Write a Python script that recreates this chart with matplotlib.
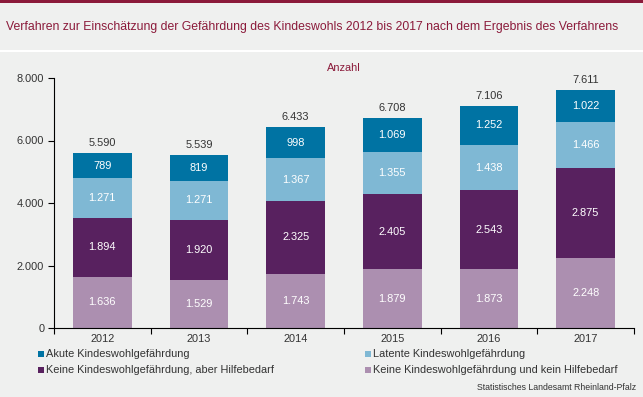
import numpy as np
import matplotlib.pyplot as plt
from matplotlib.patches import Rectangle

plt.rcParams['font.family'] = ['Liberation Sans', 'DejaVu Sans']

years = ['2012', '2013', '2014', '2015', '2016', '2017']
kein_hilfe = [1636, 1529, 1743, 1879, 1873, 2248]
aber_hilfe = [1894, 1920, 2325, 2405, 2543, 2875]
latent = [1271, 1271, 1367, 1355, 1438, 1466]
akut = [789, 819, 998, 1069, 1252, 1022]

series = [
    ('Keine Kindeswohlgefährdung und kein Hilfebedarf', kein_hilfe, '#ac8fb0'),
    ('Keine Kindeswohlgefährdung, aber Hilfebedarf', aber_hilfe, '#58215f'),
    ('Latente Kindeswohlgefährdung', latent, '#7fb8d4'),
    ('Akute Kindeswohlgefährdung', akut, '#0073a3'),
]

def fmt(v):
    return f"{v:,}".replace(',', '.')

bg = '#eff0ef'
maroon = '#8b1a3a'
txt = '#333333'
fs = 7.9

fig = plt.figure(figsize=(6.43, 3.97), dpi=100)
fig.patch.set_facecolor(bg)
# top bar and separator
fig.add_artist(Rectangle((0, 1 - 3 / 397), 1, 3 / 397, transform=fig.transFigure, color='#8b1a3a', lw=0))
fig.add_artist(Rectangle((0, 1 - 52 / 397), 1, 2 / 397, transform=fig.transFigure, color='white', lw=0))
fig.text(6 / 643, 1 - 27 / 397, 'Verfahren zur Einschätzung der Gefährdung des Kindeswohls 2012 bis 2017 nach dem Ergebnis des Verfahrens',
         color=maroon, fontsize=8.8, va='center', ha='left')

ax = fig.add_axes([54 / 643, 69 / 397, 580 / 643, 250 / 397])
ax.set_facecolor(bg)
x = np.arange(len(years))
bottom = np.zeros(len(years))
for name, vals, col in series:
    vals = np.array(vals)
    ax.bar(x, vals, width=0.61, bottom=bottom, color=col, lw=0)
    for xi, b, v in zip(x, bottom, vals):
        ax.text(xi, b + v / 2, fmt(int(v)), ha='center', va='center', color='white', fontsize=fs)
    bottom = bottom + vals
for xi, t in zip(x, bottom):
    ax.text(xi, t + 170, fmt(int(t)), ha='center', va='bottom', color=txt, fontsize=fs)

ax.set_xlim(-0.5, len(years) - 0.5)
ax.set_ylim(0, 8000)
ax.set_yticks(range(0, 8001, 2000))
ax.set_yticklabels([fmt(v) for v in range(0, 8001, 2000)], fontsize=fs, color=txt)
ax.set_xticks(np.arange(-0.5, len(years), 1))
ax.set_xticklabels([])
ax.set_xticks(x, minor=True)
ax.set_xticklabels(years, minor=True, fontsize=fs, color=txt)
ax.tick_params(axis='x', which='minor', length=0, pad=4)
ax.tick_params(axis='x', which='major', length=4, direction='out')
ax.tick_params(axis='y', length=4, pad=3)
for s in ['top', 'right']:
    ax.spines[s].set_visible(False)
ax.text(0.5, 1.04, 'Anzahl', transform=ax.transAxes, ha='center', va='center', color=maroon, fontsize=fs)

# legend
leg = [
    (38, 354, 'Akute Kindeswohlgefährdung', '#0073a3'),
    (365, 354, 'Latente Kindeswohlgefährdung', '#7fb8d4'),
    (38, 370, 'Keine Kindeswohlgefährdung, aber Hilfebedarf', '#58215f'),
    (365, 370, 'Keine Kindeswohlgefährdung und kein Hilfebedarf', '#ac8fb0'),
]
for lx, ly, name, col in leg:
    fig.add_artist(Rectangle((lx / 643, 1 - (ly + 3) / 397), 6 / 643, 6 / 397, transform=fig.transFigure, color=col, lw=0))
    fig.text((lx + 8) / 643, 1 - ly / 397, name, fontsize=fs, color=txt, va='center', ha='left')

fig.text(636 / 643, 1 - 388 / 397, 'Statistisches Landesamt Rheinland-Pfalz', fontsize=6.3, color=txt, ha='right', va='center')

fig.savefig('out.png', dpi=100, facecolor=bg)
